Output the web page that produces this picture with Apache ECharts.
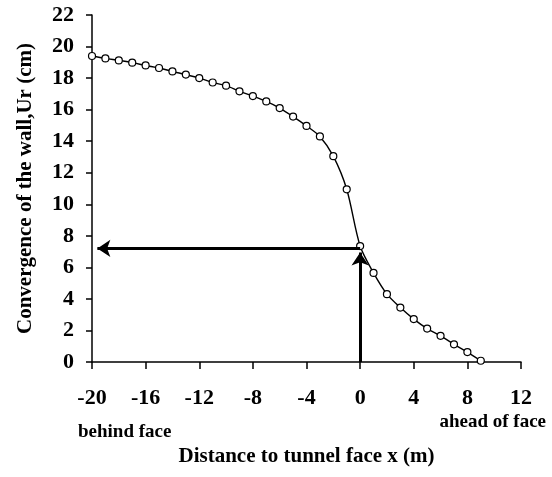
<!DOCTYPE html>
<html>
<head>
<meta charset="utf-8">
<script src="https://cdn.jsdelivr.net/npm/echarts@6/dist/echarts.min.js"></script>
<style>
html,body{margin:0;padding:0;background:#fff;}
#c{width:552px;height:477px;}
</style>
</head>
<body>
<div id="c"></div>
<script>
var xValues = [-20,-19,-18,-17,-16,-15,-14,-13,-12,-11,-10,-9,-8,-7,-6,-5,-4,-3,-2,-1,0,1,2,3,4,5,6,7,8,9];
var urValues = [19.4,19.25,19.12,18.98,18.8,18.64,18.42,18.22,18.0,17.72,17.52,17.16,16.86,16.52,16.1,15.56,14.97,14.3,13.05,10.95,7.35,5.65,4.3,3.45,2.72,2.12,1.66,1.12,0.63,0.08];
var xTicks = [-20,-16,-12,-8,-4,0,4,8,12];
var yTicks = [0,2,4,6,8,10,12,14,16,18,20,22];
var readLevel = 7.2;
var arrowH = [[0, readLevel], [-19.6, readLevel]];
var arrowV = [[0, 0], [0, 6.95]];

var FONT = "'Liberation Serif', 'Times New Roman', serif";
var chart = echarts.init(document.getElementById('c'), null, {renderer: 'canvas'});
var pts = xValues.map(function (x, i) { return [x, urValues[i]]; });
function axLine() { return {show: true, onZero: false, lineStyle: {color: '#000', width: 1.5}}; }
chart.setOption({
  animation: false,
  backgroundColor: '#fff',
  grid: {left: 92, right: 31, top: 15, bottom: 115, containLabel: false},
  xAxis: {
    type: 'value', min: xTicks[0], max: xTicks[xTicks.length - 1], interval: 4,
    axisLine: axLine(),
    axisTick: {show: true, inside: false, length: 7, lineStyle: {color: '#000', width: 1.5}},
    splitLine: {show: false},
    axisLabel: {margin: 25, color: '#000', fontFamily: FONT, fontWeight: 'bold', fontSize: 22},
    name: 'Distance to tunnel face x (m)', nameLocation: 'middle', nameGap: 84,
    nameTextStyle: {color: '#000', fontFamily: FONT, fontWeight: 'bold', fontSize: 21}
  },
  yAxis: {
    type: 'value', min: yTicks[0], max: yTicks[yTicks.length - 1], interval: 2,
    axisLine: axLine(),
    axisTick: {show: true, inside: false, length: 6, lineStyle: {color: '#000', width: 1.5}},
    splitLine: {show: false},
    axisLabel: {margin: 18, color: '#000', fontFamily: FONT, fontWeight: 'bold', fontSize: 22},
    name: 'Convergence of the wall,Ur (cm)', nameLocation: 'middle', nameGap: 56,
    nameTextStyle: {color: '#000', fontFamily: FONT, fontWeight: 'bold', fontSize: 21}
  },
  graphic: [
    {type: 'text', left: 78, top: 423, style: {text: 'behind face', fill: '#000', font: 'bold 19px ' + FONT}},
    {type: 'text', right: 6, top: 413, style: {text: 'ahead of face', fill: '#000', font: 'bold 19px ' + FONT}}
  ],
  series: [
    {
      type: 'line', data: pts, smooth: 0.3,
      symbol: 'circle', symbolSize: 7,
      itemStyle: {color: '#fff', borderColor: '#000', borderWidth: 1.2},
      lineStyle: {color: '#000', width: 1.4},
      z: 3
    },
    {
      type: 'lines', coordinateSystem: 'cartesian2d', z: 4,
      symbol: ['none', 'arrow'], symbolSize: [0, 13],
      lineStyle: {color: '#000', width: 3, opacity: 1},
      data: [{coords: arrowH}, {coords: arrowV}]
    }
  ]
});
</script>
</body>
</html>
